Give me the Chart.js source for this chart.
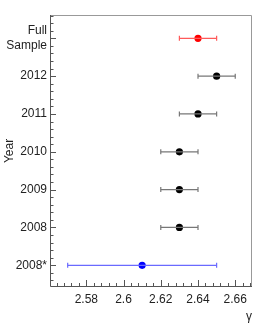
<!DOCTYPE html>
<html>
<head>
<meta charset="utf-8">
<script src="https://cdn.jsdelivr.net/npm/chart.js@4"></script>
<style>
  html, body { margin: 0; padding: 0; background: #fff; }
</style>
</head>
<body>
<canvas id="canvas" width="266" height="329"></canvas>
<script>
// rows, listed from the bottom of the plot to the top
let years = ['2008*', '2008', '2009', '2010', '2011', '2012', ['Full', 'Sample']];
// measured gamma and its error bar (minus / plus)
let gamma = [2.61, 2.63, 2.63, 2.63, 2.64, 2.65, 2.64];
let errLow = [0.04, 0.01, 0.01, 0.01, 0.01, 0.01, 0.01];
let errHigh = [0.04, 0.01, 0.01, 0.01, 0.01, 0.01, 0.01];
// x axis tick labels
let xTicks = [2.58, 2.6, 2.62, 2.64, 2.66];

// marker colours and error bar colours, per row
let markerColors = ['#0000ff', '#000', '#000', '#000', '#000', '#000', '#ff0000'];
let barColors = ['#6a6aff', '#777', '#777', '#777', '#777', '#777', '#ff5a5a'];

const textColor = '#222';
const font = { family: "'Liberation Sans', Arial, sans-serif", size: 12, lineHeight: 1.25 };

// one little line dataset per error bar, caps are rotated 'line' points
let datasets = [];
for (let i = 0; i < gamma.length; i++) {
  datasets.push({
    type: 'line',
    data: [{ x: gamma[i] - errLow[i], y: i }, { x: gamma[i] + errHigh[i], y: i }],
    borderColor: barColors[i],
    borderWidth: 1.2,
    pointStyle: 'line',
    rotation: 90,
    pointRadius: 2.5,
    pointBorderColor: barColors[i],
    pointBorderWidth: 1.2,
    showLine: true,
    fill: false
  });
}
// the markers themselves
datasets.push({
  type: 'scatter',
  data: gamma.map((g, i) => ({ x: g, y: i })),
  pointRadius: 3.6,
  pointBackgroundColor: markerColors,
  pointBorderColor: markerColors,
  pointBorderWidth: 0
});

// frame plus inward ticks, ROOT style
const framePlugin = {
  id: 'frame',
  beforeDatasetsDraw(chart) {
    const { ctx, chartArea: a, scales: { x, y } } = chart;
    ctx.save();
    ctx.lineWidth = 1;
    // top and right edges
    ctx.strokeStyle = '#999';
    ctx.beginPath();
    ctx.moveTo(a.left, a.top + 0.5);
    ctx.lineTo(a.right - 0.5, a.top + 0.5);
    ctx.lineTo(a.right - 0.5, a.bottom);
    ctx.stroke();
    // axes and ticks
    ctx.strokeStyle = '#555';
    ctx.beginPath();
    ctx.moveTo(a.left + 0.5, a.top);
    ctx.lineTo(a.left + 0.5, a.bottom - 0.5);
    ctx.lineTo(a.right, a.bottom - 0.5);
    for (let k = Math.ceil(x.min / 0.004); k * 0.004 <= x.max; k++) {
      let px = Math.round(x.getPixelForValue(k * 0.004)) + 0.5;
      let len = k % 5 === 0 ? 7 : 4;
      ctx.moveTo(px, a.bottom);
      ctx.lineTo(px, a.bottom - len);
    }
    for (let k = Math.ceil(y.min / 0.2); k * 0.2 <= y.max; k++) {
      let py = Math.round(y.getPixelForValue(k * 0.2)) + 0.5;
      let len = k % 5 === 0 ? 6 : 3.5;
      ctx.moveTo(a.left, py);
      ctx.lineTo(a.left + len, py);
    }
    ctx.stroke();
    ctx.restore();
  }
};

let chart = new Chart(document.getElementById('canvas').getContext('2d'), {
  type: 'scatter',
  data: { datasets: datasets },
  options: {
    responsive: false,
    animation: false,
    layout: { padding: { left: 0, right: 14, top: 15, bottom: 0 } },
    plugins: { legend: { display: false }, tooltip: { enabled: false } },
    scales: {
      x: {
        type: 'linear',
        position: 'bottom',
        min: 2.5605,
        max: 2.669,
        grid: { display: false, drawTicks: false },
        border: { display: false },
        afterBuildTicks: (s) => { s.ticks = xTicks.map(v => ({ value: v })); },
        afterFit: (s) => { s.height = 42; s.paddingLeft = 0; s.paddingRight = 0; },
        ticks: {
          color: textColor,
          font: font,
          padding: 5,
          maxRotation: 0,
          autoSkip: false,
          callback: (v) => String(v)
        },
        title: {
          display: true,
          text: 'γ',
          align: 'end',
          color: textColor,
          font: font,
          padding: { top: 0, bottom: 5 }
        }
      },
      y: {
        type: 'linear',
        min: -0.574,
        max: 6.616,
        grid: { display: false, drawTicks: false },
        border: { display: false },
        afterBuildTicks: (s) => { s.ticks = years.map((t, i) => ({ value: i })); },
        afterFit: (s) => { s.width = 50; s.paddingTop = 0; s.paddingBottom = 0; },
        ticks: {
          color: textColor,
          font: font,
          padding: 3,
          autoSkip: false,
          callback: (v) => years[v]
        },
        title: {
          display: true,
          text: 'Year',
          color: textColor,
          font: font,
          padding: { top: 2, bottom: 0 }
        }
      }
    }
  },
  plugins: [framePlugin]
});
</script>
</body>
</html>
